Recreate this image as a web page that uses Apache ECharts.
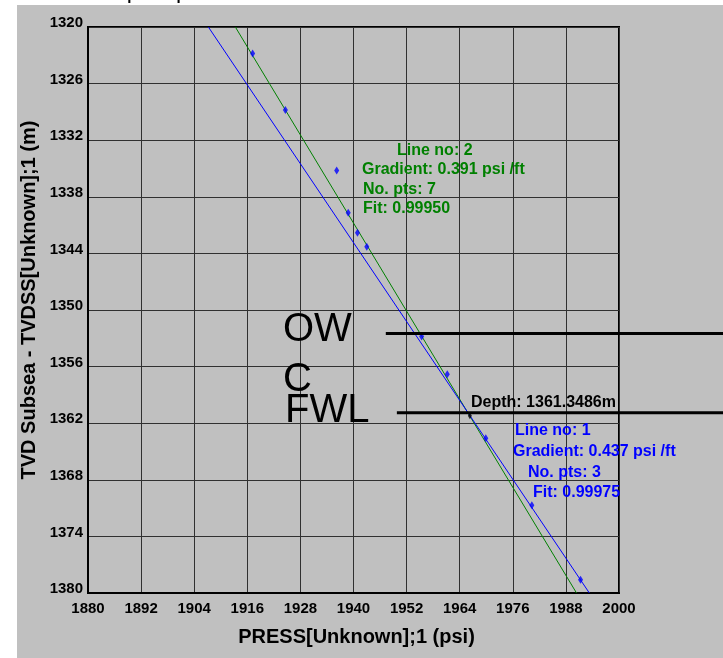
<!DOCTYPE html>
<html>
<head>
<meta charset="utf-8">
<script src="https://cdn.jsdelivr.net/npm/echarts@6/dist/echarts.min.js"></script>
<style>
  html, body { margin: 0; padding: 0; background: #ffffff; }
  #chart { width: 723px; height: 658px; }
</style>
</head>
<body>
<div id="chart"></div>
<script>
// ---- data ----
const xTicks = [1880, 1892, 1904, 1916, 1928, 1940, 1952, 1964, 1976, 1988, 2000];
const yTicks = [1320, 1326, 1332, 1338, 1344, 1350, 1356, 1362, 1368, 1374, 1380];
// measured points [pressure psi, TVDSS m]
const pointsPress = [1917.2, 1924.6, 1936.2, 1938.8, 1940.9, 1943.0, 1955.4, 1961.2, 1969.9, 1980.3, 1991.3];
const pointsDepth = [1322.8, 1328.8, 1335.2, 1339.7, 1341.8, 1343.3, 1352.8, 1356.8, 1363.6, 1370.7, 1378.6];
// fitted gradient lines (end points)
const line2Press = [1913.3, 1990.4];   // green, line no 2
const line2Depth = [1320, 1380];
const line1Press = [1907.2, 1993.3];   // blue, line no 1
const line1Depth = [1320, 1380];
// contacts (start pressure, end pressure, depth)
const owcPress = [1947.3, 2024];
const owcDepth = 1352.5;
const fwlPress = [1949.8, 2024];
const fwlDepth = 1360.9;
const depthMarker = [1966.3, 1361.2];
const line2Text = ['Line no: 2', 'Gradient: 0.391 psi /ft', 'No. pts: 7', 'Fit: 0.99950'];
const line1Text = ['Line no: 1', 'Gradient: 0.437 psi /ft', 'No. pts: 3', 'Fit: 0.99975'];
const depthText = 'Depth: 1361.3486m';
const xTitle = 'PRESS[Unknown];1 (psi)';
const yTitle = 'TVD Subsea - TVDSS[Unknown];1 (m)';

const FONT = 'Liberation Sans, Arial, Helvetica, sans-serif';
const zip = (a, b) => a.map((v, i) => [v, b[i]]);

const chart = echarts.init(document.getElementById('chart'), null, { renderer: 'canvas' });

function txt(text, x, y, color, size, weight) {
  return {
    type: 'text', x: x, y: y, z: 50, silent: true,
    style: { text: text, fill: color, font: (weight || 'bold') + ' ' + size + 'px ' + FONT, verticalAlign: 'middle', align: 'left' }
  };
}

const graphics = [
  { type: 'rect', shape: { x: 0, y: 0, width: 17, height: 658 }, style: { fill: '#ffffff' }, z: -5, silent: true },
  { type: 'rect', shape: { x: 0, y: 0, width: 723, height: 5 }, style: { fill: '#ffffff' }, z: -5, silent: true },
  txt('11 out of 3307 points plotted at TVDSS - PRESS', 24, -4, '#000', 15),
  {
    type: 'text', x: 29, y: 300, rotation: Math.PI / 2, z: 50, silent: true,
    style: { text: yTitle, fill: '#000', font: 'bold 20px ' + FONT, align: 'center', verticalAlign: 'middle' }
  },
  txt(line2Text[0], 397, 151, '#008000', 16),
  txt(line2Text[1], 362, 170, '#008000', 16),
  txt(line2Text[2], 363, 190, '#008000', 16),
  txt(line2Text[3], 363, 209, '#008000', 16),
  txt(line1Text[0], 515, 431, '#0000ff', 16),
  txt(line1Text[1], 513, 452, '#0000ff', 16),
  txt(line1Text[2], 528, 473, '#0000ff', 16),
  txt(line1Text[3], 533, 493, '#0000ff', 16),
  txt(depthText, 471, 403, '#000', 16),
  txt('OW', 283, 330, '#000', 40, 'normal'),
  txt('C', 283, 380, '#000', 40, 'normal'),
  txt('FWL', 285, 411, '#000', 40, 'normal')
];

chart.setOption({
  backgroundColor: '#c0c0c0',
  animation: false,
  grid: { left: 88, right: 104, top: 27, bottom: 65, show: true, borderColor: '#000', borderWidth: 2, backgroundColor: 'transparent' },
  xAxis: {
    type: 'value', min: 1880, max: 2000, interval: 12,
    name: xTitle, nameLocation: 'middle', nameGap: 34,
    nameTextStyle: { fontFamily: FONT, fontWeight: 'bold', fontSize: 20, color: '#000', padding: [0, 0, 0, 6] },
    axisLine: { show: true, lineStyle: { color: '#000', width: 2 } },
    axisTick: { show: false },
    axisLabel: { fontFamily: FONT, fontWeight: 'bold', fontSize: 15, color: '#000', margin: 8,
      formatter: v => xTicks.includes(v) ? String(v) : '' },
    splitLine: { show: true, lineStyle: { color: '#303030', width: 1 } }
  },
  yAxis: {
    type: 'value', min: 1320, max: 1380, interval: 6, inverse: true,
    axisLine: { show: true, lineStyle: { color: '#000', width: 2 } },
    axisTick: { show: false },
    axisLabel: { fontFamily: FONT, fontWeight: 'bold', fontSize: 15, color: '#000', margin: 5,
      verticalAlign: 'bottom', lineHeight: 8,
      formatter: v => yTicks.includes(v) ? String(v) : '' },
    splitLine: { show: true, lineStyle: { color: '#303030', width: 1 } }
  },
  series: [
    { type: 'line', data: zip(line2Press, line2Depth), symbol: 'none', lineStyle: { color: '#008000', width: 1 }, z: 3 },
    { type: 'line', data: zip(line1Press, line1Depth), symbol: 'none', lineStyle: { color: '#0000ff', width: 1 }, z: 3 },
    { type: 'scatter', data: zip(pointsPress, pointsDepth), symbol: 'diamond', symbolSize: [5, 8], itemStyle: { color: '#0000ff' }, z: 5 },
    { type: 'scatter', data: [depthMarker], symbol: 'diamond', symbolSize: [4, 7], itemStyle: { color: '#000' }, z: 6 }
  ],
  graphic: graphics
});

// contact lines, positioned through the axes' own scales (they run past the plot edge)
function contactLine(pressRange, depth) {
  const a = chart.convertToPixel({ gridIndex: 0 }, [pressRange[0], depth]);
  const b = chart.convertToPixel({ gridIndex: 0 }, [pressRange[1], depth]);
  return { type: 'line', z: 40, silent: true, shape: { x1: a[0], y1: a[1], x2: b[0], y2: b[1] }, style: { stroke: '#000', lineWidth: 3 } };
}
chart.setOption({ graphic: graphics.concat([contactLine(owcPress, owcDepth), contactLine(fwlPress, fwlDepth)]) });
</script>
</body>
</html>
